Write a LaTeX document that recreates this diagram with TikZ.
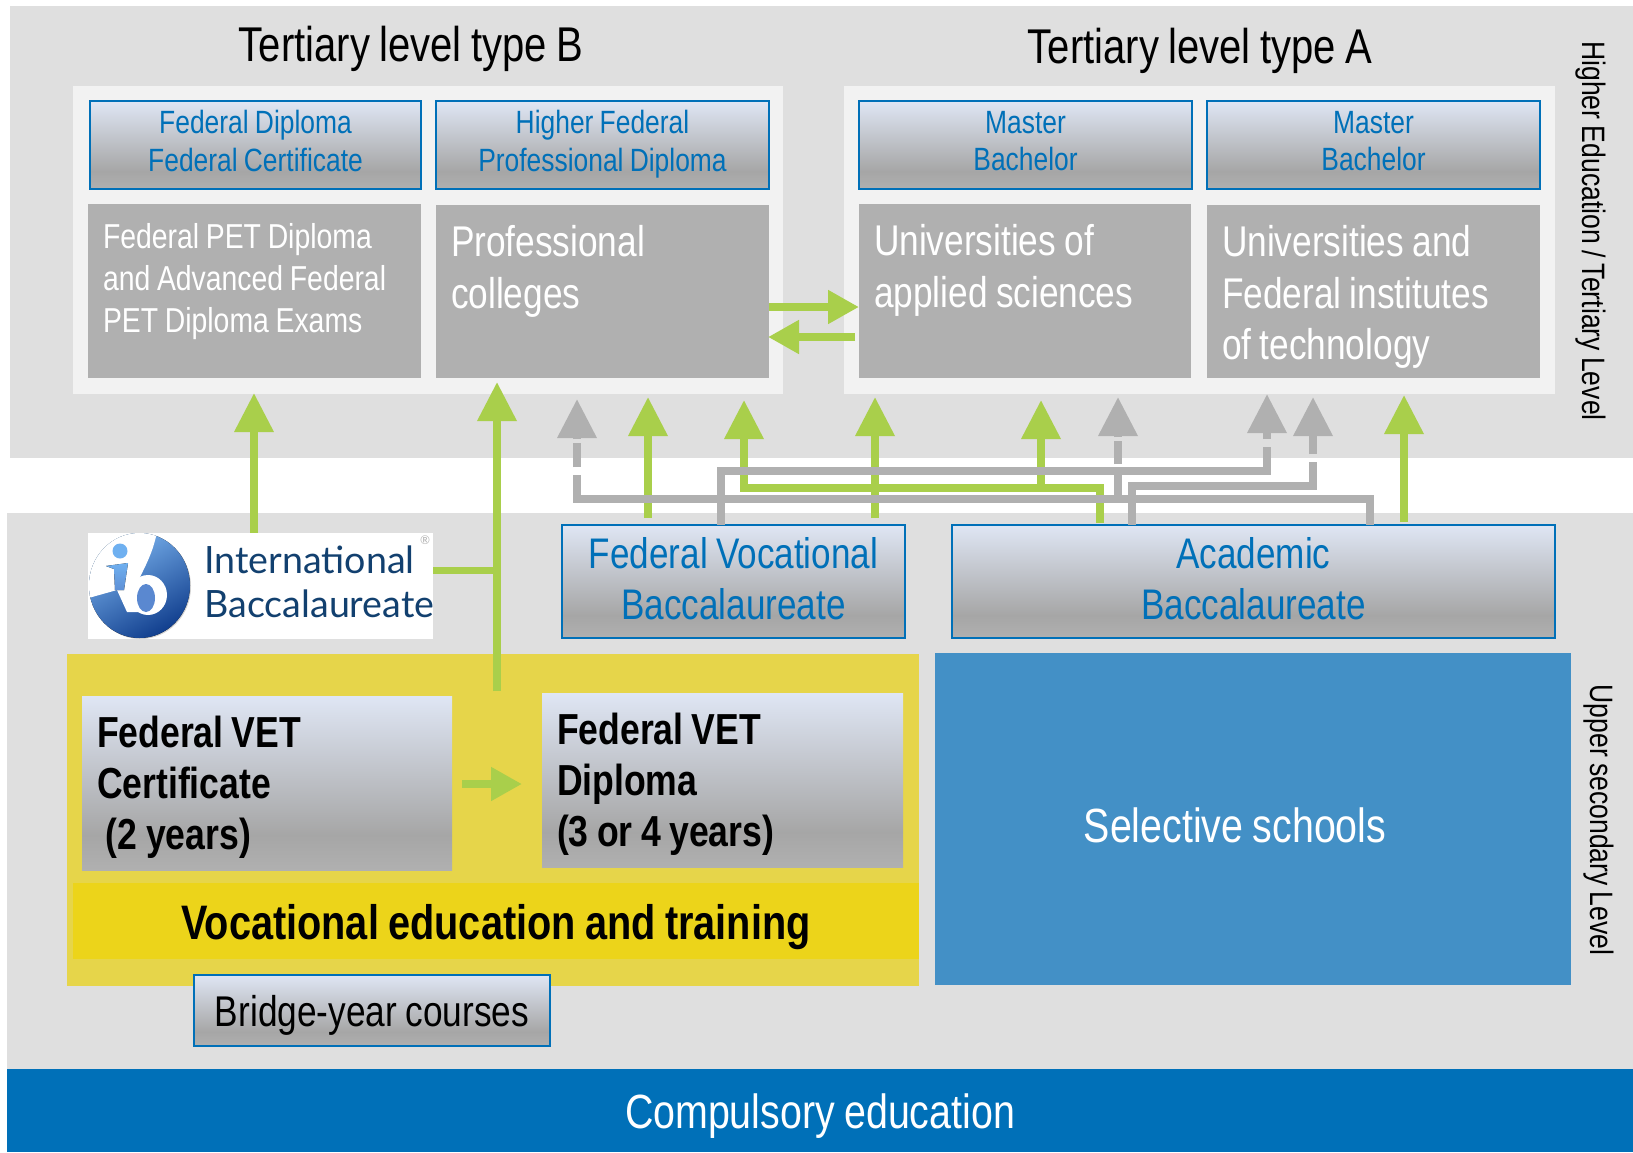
\documentclass[tikz,border=0pt]{standalone}
\usepackage{fontspec}
\setmainfont[FakeStretch=0.82,WordSpace=0.85]{Liberation Sans}
\newfontfamily\ibfont{Lato}
\usepackage{tikz}
\usetikzlibrary{arrows.meta,calc}

\definecolor{bandgray}{HTML}{DFDFDF}
\definecolor{panelgray}{HTML}{F2F2F2}
\definecolor{boxgray}{HTML}{B0B0B0}
\definecolor{linkgreen}{HTML}{A9CF4B}
\definecolor{linkgray}{HTML}{B0B0B0}
\definecolor{titleblue}{HTML}{0070B8}
\definecolor{gradtop}{HTML}{DFE6F4}
\definecolor{gradlow}{HTML}{A6A6A6}
\definecolor{gradbot}{HTML}{B0B0B0}
\definecolor{vetyellow}{HTML}{E6D54A}
\definecolor{vetband}{HTML}{ECD41A}
\definecolor{schoolblue}{HTML}{4390C6}
\definecolor{ibnavy}{HTML}{12406F}
\definecolor{ballhigh}{HTML}{7FB8F2}
\definecolor{ballmid}{HTML}{5A88D0}
\definecolor{balllow}{HTML}{0D3A8A}
\definecolor{iblight}{HTML}{6FB0F0}
\pgfdeclareverticalshading{boxfade}{100bp}{color(0bp)=(gradbot);color(25bp)=(gradbot);color(35bp)=(gradlow);color(75bp)=(gradtop);color(100bp)=(gradtop)}

\tikzset{
	sized/.style 2 args={minimum width={#1*0.5pt},minimum height={#2*0.5pt},inner sep=0pt},
	plain/.style 2 args={sized={#1}{#2},rectangle},
	grad/.style={shading=boxfade},
	titlebox/.style 2 args={sized={#1}{#2},grad,draw=titleblue,line width=1pt,text=titleblue,align=center},
	leftbox/.style 2 args={sized={#1}{#2},text width={(#1-30)*0.5pt},align=flush left},
	greenlink/.style={draw=linkgreen,line width=4pt},
	graylink/.style={draw=linkgray,line width=4pt},
	bighead/.style={-{Triangle[length=19.5pt,width=18.8pt]}},
	smallhead/.style={-{Triangle[length=15.5pt,width=16pt]}},
}

\begin{document}
\begin{tikzpicture}[x=0.5pt,y=-0.5pt]
		\useasboundingbox (0,0) rectangle (1633,1152);
		\fill[white] (0,0) rectangle (1633,1152);

		% bands
		\node[plain={1623}{452},fill=bandgray] (highband) at (821.5,232) {};
		\node[plain={1626}{556},fill=bandgray] (lowband) at (820,791) {};
		\node[plain={710}{308},fill=panelgray] (panelB) at (428,240) {};
		\node[plain={711}{308},fill=panelgray] (panelA) at (1199.5,240) {};
		\node[plain={852}{332},fill=vetyellow] (vet) at (493,820) {};

		\node[text depth=0pt,font=\fontsize{24.4}{30}\selectfont] (typeB) at (411,44) {Tertiary level type B};
		\node[text depth=0pt,font=\fontsize{24.4}{30}\selectfont] (typeA) at (1200,46) {Tertiary level type A};
		\node[rotate=-90,font=\fontsize{16.2}{20}\selectfont] (higher) at (1591,231) {Higher Education / Tertiary Level};
		\node[rotate=-90,font=\fontsize{16.2}{20}\selectfont] (upper) at (1599,820) {Upper secondary Level};

		\begin{scope}[every node/.style={text depth=4pt,font=\fontsize{16.1}{18.8}\selectfont}]
			\node[titlebox={331}{88}] (fdip) at (255.5,145) {Federal Diploma\\Federal Certificate};
			\node[titlebox={333}{88}] (hfed) at (602.5,145) {Higher Federal\\Professional Diploma};
			\node[titlebox={333}{88}] (mas1) at (1025.5,145) {Master\\Bachelor};
			\node[titlebox={333}{88}] (mas2) at (1373.5,145) {Master\\Bachelor};
		\end{scope}

		\begin{scope}[every node/.style={fill=boxgray,text=white,text depth=50.6pt,font=\fontsize{21.5}{25.8}\selectfont}]
			\node[leftbox={333}{174},text depth=54.6pt,font=\fontsize{17.3}{20.8}\selectfont] (pet) at (254.5,291) {Federal PET Diploma\\and Advanced Federal\\PET Diploma Exams};
			\node[leftbox={333}{173}] (prof) at (602.5,291.5) {Professional\\colleges};
			\node[leftbox={332}{174}] (uas) at (1025,291) {Universities of\\applied sciences};
			\node[leftbox={333}{173}] (uni) at (1373.5,291.5) {Universities and\\Federal institutes\\of technology};
		\end{scope}

		\begin{scope}[every node/.style={text depth=3pt,font=\fontsize{21.4}{25.5}\selectfont}]
			\node[titlebox={343}{113}] (fvb) at (733.5,581.5) {Federal Vocational\\Baccalaureate};
			\node[titlebox={603}{113}] (acad) at (1253.5,581.5) {Academic\\Baccalaureate};
		\end{scope}

		\node[plain={345}{106},fill=white] (ib) at (260.5,586) {};
		\fill[gray!35] (140.5,586.5) ellipse (50.5 and 52.5);
		\begin{scope}
			\clip (139.5,585.5) ellipse (50.5 and 52.5);
			\fill[top color=ballhigh,middle color=ballmid,bottom color=balllow,shading angle=30] (85,530) rectangle (195,642);
			\fill[white] (85,599) -- (117,590) -- (127,612) -- (140,612) -- (137,583) .. controls (146,565) and (153,552) .. (157,532) -- (85,530) -- cycle;
			\fill[white] (148,595) ellipse (19 and 20);
			\fill[ballmid] (146,598) ellipse (9 and 14);
		\end{scope}
		\fill[iblight] (120,551) circle (7.5);
		\fill[top color=iblight,bottom color=ballmid!80!iblight] (106,566) -- (128,563) -- (124,590) -- (115,590) -- (114,569) -- cycle;
		\node[anchor=west,text=ibnavy,align=left,inner sep=0pt,font=\ibfont\fontsize{18.8}{22}\selectfont] (ibtext) at (204,582) {International\\Baccalaureate};
		\node[text=gray!60,inner sep=0pt,font=\ibfont\fontsize{6}{6}\selectfont] (ibreg) at (425,540) {®};

		\begin{scope}[every node/.style={text depth=51.5pt,font=\bfseries\fontsize{21.7}{25.5}\selectfont}]
			\node[leftbox={370}{174},grad] (cert) at (267,783) {Federal VET\\Certificate\\\hspace*{4.5pt}(2 years)};
			\node[leftbox={361}{174},grad] (dipl) at (722.5,780) {Federal VET\\Diploma\\(3 or 4 years)};
		\end{scope}
		\node[plain={846}{76},fill=vetband,text depth=0pt,font=\bfseries\fontsize{24.2}{28}\selectfont] (vettitle) at (496,921) {\raisebox{-1pt}{Vocational education and training}};
		\node[plain={636}{332},fill=schoolblue] (sel) at (1253,819) {};
		\node[text=white,font=\fontsize{24}{28}\selectfont] (seltext) at (1235,825) {Selective schools};
		\node[sized={356}{71},grad,draw=titleblue,line width=1pt,text depth=0pt,font=\fontsize{21.5}{26}\selectfont] (bridge) at (372,1010.5) {Bridge-year courses};
		\node[plain={1626}{83},fill=titleblue,text=white,text depth=0pt,font=\fontsize{24}{28}\selectfont] (comp) at (820,1110.5) {\raisebox{-1pt}{Compulsory education}};

		% arrow tips
		\coordinate (tipIB) at (254,393);
		\coordinate (tipVET) at (497,382);
		\coordinate (tipF1) at (648,397);
		\coordinate (tipF2) at (744,400);
		\coordinate (tipF3) at (875,397);
		\coordinate (tipA1) at (1041,400);
		\coordinate (tipA2) at (1404,395);
		\coordinate (tipG1) at (577,399);
		\coordinate (tipG2) at (1118,397);
		\coordinate (tipG3) at (1267,394);
		\coordinate (tipG4) at (1313,397);
		\coordinate (srcF2) at (1100,525);
		\coordinate (srcG1) at (1370,525);
		\coordinate (srcG3) at (721,525);
		\coordinate (srcG4) at (1132,525);
		\coordinate (vetTop) at (497,691);
		\coordinate (ibJoin) at (497,570);
		\coordinate (midA) at (1041,488);

		\begin{scope}[every path/.style={greenlink,bighead}]
			\path (ib.north -| tipIB) -- (tipIB);
			\path (vetTop) -- (tipVET);
			\path[shorten <=3pt] (fvb.north -| tipF1) -- (tipF1);
			\path[shorten <=3pt] (fvb.north -| tipF3) -- (tipF3);
			\path[shorten <=1pt] (srcF2) -- ++(0,-37) -| (tipF2);
			\path (midA) -- (tipA1);
			\path[shorten <=1pt] (acad.north -| tipA2) -- (tipA2);
		\end{scope}
		\draw[greenlink,line width=3.5pt] (ib.east |- ibJoin) -- (ibJoin);

		\begin{scope}[every path/.style={graylink}]
			\path (srcG1) -- ++(0,-26) -| ($(tipG1)+(0,76)$);
			\path ($(tipG1)+(0,68)$) -- ($(tipG1)+(0,44)$);
			\path[bighead] ($(tipG1)+(0,40)$) -- (tipG1);

			\path ($(tipG2)+(0,98)$) -- ($(tipG2)+(0,78)$);
			\path ($(tipG2)+(0,67)$) -- ($(tipG2)+(0,44)$);
			\path[bighead] ($(tipG2)+(0,40)$) -- (tipG2);

			\path (srcG3) -- ++(0,-54) -| ($(tipG3)+(0,53)$);
			\path[bighead] ($(tipG3)+(0,45)$) -- (tipG3);

			\path (srcG4) -- ++(0,-39) -| ($(tipG4)+(0,65)$);
			\path[bighead] ($(tipG4)+(0,57)$) -- (tipG4);
		\end{scope}

		% between the colleges
		\coordinate (outR) at (769,307);
		\coordinate (inR) at (859,307);
		\coordinate (outL) at (855,337);
		\coordinate (inL) at (768,337);
		\coordinate (certOut) at (462,784);
		\coordinate (diplIn) at (522,784);
		\draw[greenlink,smallhead] (outR) -- (inR);
		\draw[greenlink,smallhead] (outL) -- (inL);
		\draw[greenlink,smallhead] (certOut) -- (diplIn);
		\end{tikzpicture}
\end{document}
